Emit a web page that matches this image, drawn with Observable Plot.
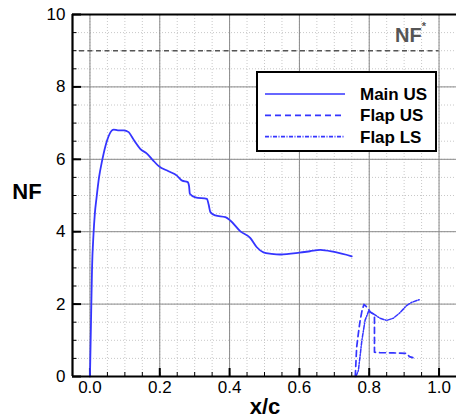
<!DOCTYPE html>
<html><head><meta charset="utf-8">
<script src="https://cdn.jsdelivr.net/npm/d3@7"></script>
<script src="https://cdn.jsdelivr.net/npm/@observablehq/plot@0.6"></script>
<style>body{margin:0;background:#fff;font-family:"Liberation Sans",Arial,sans-serif}</style>
</head><body><div id="chart"></div>
<script>
// ---- data ----
const mainX = [0.000,0.003,0.006,0.010,0.014,0.019,0.026,0.035,0.049,0.063,0.068,0.080,0.097,0.111,0.120,0.130,0.144,0.164,0.180,0.197,0.225,0.249,0.264,0.280,0.284,0.286,0.302,0.335,0.340,0.345,0.359,0.388,0.402,0.431,0.459,0.478,0.497,0.520,0.545,0.600,0.630,0.660,0.700,0.750];
const mainY = [0,1.5,3.0,3.9,4.5,4.95,5.5,5.97,6.52,6.80,6.82,6.80,6.80,6.75,6.62,6.47,6.29,6.15,5.98,5.81,5.67,5.55,5.41,5.37,5.25,5.05,4.95,4.91,4.75,4.54,4.45,4.40,4.31,4.01,3.83,3.57,3.43,3.39,3.37,3.42,3.46,3.50,3.44,3.32];
const flapUSX = [0.760,0.764,0.769,0.774,0.780,0.785,0.793,0.803,0.812,0.815,0.815,0.831,0.870,0.907,0.915,0.925];
const flapUSY = [0,0.81,1.2,1.55,1.85,1.99,1.92,1.78,1.73,1.66,0.67,0.66,0.65,0.64,0.55,0.52];
const flapLSX = [0.762,0.769,0.779,0.788,0.798,0.812,0.831,0.850,0.869,0.888,0.907,0.922,0.946];
const flapLSY = [0,0.17,1.0,1.55,1.80,1.73,1.61,1.55,1.61,1.76,1.96,2.05,2.13];
const nfStar = 9;
const xTicks = [0,0.2,0.4,0.6,0.8,1.0];
const yTicks = [0,2,4,6,8,10];
const seriesNames = ["Main US","Flap US","Flap LS"];

const toRows = (xs, ys) => xs.map((x,i)=>({x, y: ys[i]}));
const blue = "#3535ff";
const xDom = [-0.05, 1.05], yDom = [0, 10];
const xMinor = d3.range(-0.05, 1.05001, 0.05).map(v=>+v.toFixed(2));
const yMinor = d3.range(0, 10.001, 0.5);
const pxY = 362/10, pxX = 384/1.1;

const plot = Plot.plot({
  width: 456, height: 419,
  marginLeft: 72, marginRight: 0, marginTop: 14, marginBottom: 43,
  x: {domain: xDom}, y: {domain: yDom},
  style: {fontFamily: '"Liberation Sans", Arial, sans-serif', fontSize: "17px", background: "#fff", color: "#000"},
  marks: [
    Plot.ruleX(xMinor, {y1: 0, y2: 10, stroke: "#c8c8c8", strokeDasharray: "1,2"}),
    Plot.ruleY(yMinor, {x1: xDom[0], x2: xDom[1], stroke: "#c8c8c8", strokeDasharray: "1,2"}),
    Plot.ruleX(xTicks, {y1: 0, y2: 10, stroke: "#8a8a8a", strokeWidth: 1}),
    Plot.ruleY(yTicks, {x1: xDom[0], x2: xDom[1], stroke: "#8a8a8a", strokeWidth: 1}),
    // inward tick marks
    Plot.ruleX(xMinor, {y1: 0, y2: 4/pxY, stroke: "#000", strokeWidth: 1}),
    Plot.ruleX(xTicks, {y1: 0, y2: 8/pxY, stroke: "#000", strokeWidth: 2}),
    Plot.ruleY(yMinor, {x1: xDom[0], x2: xDom[0] + 4.5/pxX, stroke: "#000", strokeWidth: 1}),
    Plot.ruleY(yTicks, {x1: xDom[0], x2: xDom[0] + 9/pxX, stroke: "#000", strokeWidth: 2}),
    // NF* reference line
    Plot.ruleY([nfStar], {x1: -0.03, x2: 1.0, stroke: "#555", strokeWidth: 1.6, strokeDasharray: "5,3.5"}),
    // curves
    Plot.line(toRows(mainX, mainY), {x: "x", y: "y", stroke: blue, strokeWidth: 1.8, curve: "monotone-x"}),
    Plot.line(toRows(flapUSX, flapUSY), {x: "x", y: "y", stroke: blue, strokeWidth: 1.7, strokeDasharray: "6,4"}),
    Plot.line(toRows(flapLSX, flapLSY), {x: "x", y: "y", stroke: blue, strokeWidth: 1.5, strokeDasharray: "4,1.5,1,1.5"}),
    // frame
    Plot.ruleX([xDom[0]], {y1: 0, y2: 10, stroke: "#000", strokeWidth: 2.2}),
    Plot.ruleY([0, 10], {x1: xDom[0], x2: xDom[1], stroke: "#000", strokeWidth: 2.2}),
    Plot.axisX({ticks: xTicks, tickSize: 0, tickPadding: 4, tickFormat: d3.format(".1f"), fontSize: 17, label: null}),
    Plot.axisY({ticks: yTicks, tickSize: 0, tickPadding: 7, tickFormat: d3.format("d"), fontSize: 17, label: null})
  ]
});
document.getElementById("chart").appendChild(plot);

// ---- labels & legend ----
const svg = d3.select(plot);
svg.append("text").attr("x", 27).attr("y", 199).attr("text-anchor", "middle")
  .attr("font-size", 22).attr("font-weight", "bold").attr("fill", "#000").text("NF");
svg.append("text").attr("x", 265).attr("y", 414).attr("text-anchor", "middle")
  .attr("font-size", 22).attr("font-weight", "bold").attr("fill", "#000").text("x/c");
const nfLab = svg.append("text").attr("x", 395).attr("y", 42).attr("text-anchor", "start")
  .attr("font-size", 20).attr("font-weight", "bold").attr("fill", "#555");
nfLab.append("tspan").text("NF");
nfLab.append("tspan").attr("font-size", 11).attr("dy", -12).text("*");

const lg = svg.append("g");
lg.append("rect").attr("x", 257).attr("y", 72).attr("width", 179).attr("height", 79)
  .attr("fill", "#fff").attr("stroke", "#000").attr("stroke-width", 2);
const dashes = [null, "6,4", "4,1.5,1,1.5"];
seriesNames.forEach((name, i) => {
  const yy = 94 + i * 21.3;
  lg.append("line").attr("x1", 265).attr("x2", 345).attr("y1", yy).attr("y2", yy)
    .attr("stroke", blue).attr("stroke-width", 1.7).attr("stroke-dasharray", dashes[i]);
  lg.append("text").attr("x", 360).attr("y", yy + 6).attr("text-anchor", "start").attr("font-size", 17)
    .attr("font-weight", "bold").attr("fill", "#000").text(name);
});
</script>
</body></html>
